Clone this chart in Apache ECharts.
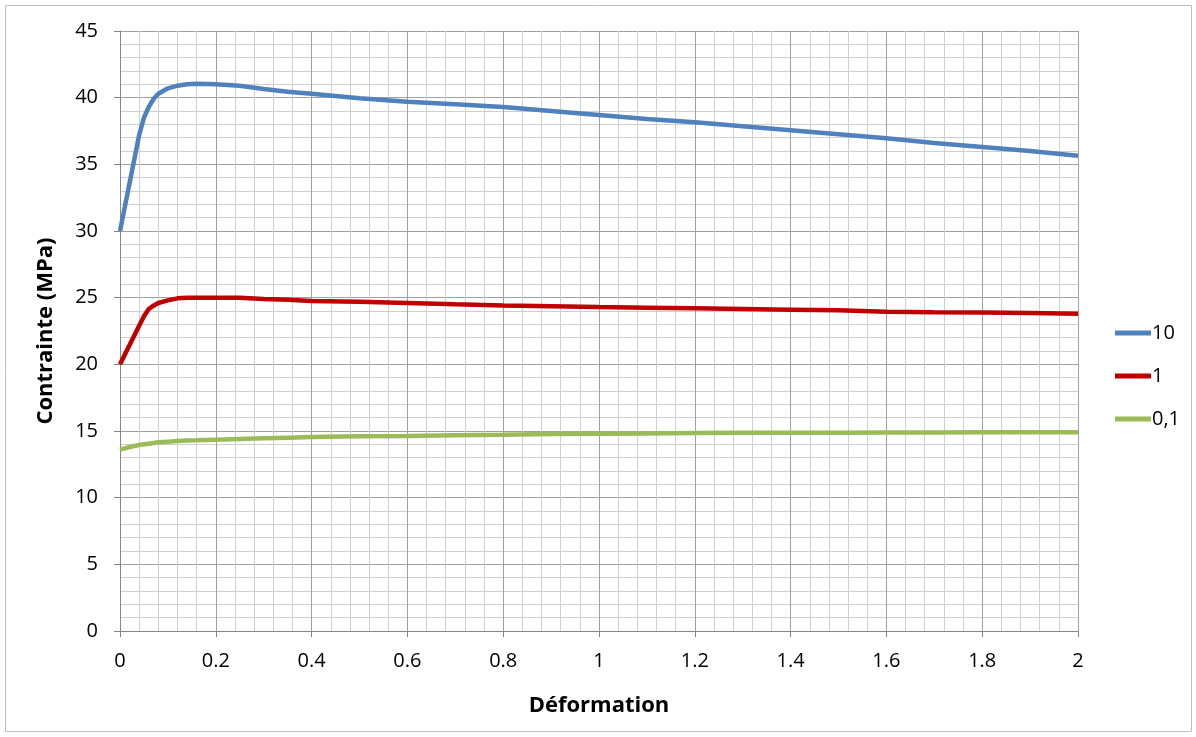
<!DOCTYPE html>
<html>
<head>
<meta charset="utf-8">
<script src="https://cdn.jsdelivr.net/npm/echarts@6/dist/echarts.min.js"></script>
<style>html,body{margin:0;padding:0;background:#fff;}#c{width:1196px;height:737px;}</style>
</head>
<body>
<div id="c"></div>
<script>
const strain = [0,0.02,0.04,0.05,0.06,0.07,0.08,0.1,0.12,0.14,0.16,0.2,0.25,0.3,0.35,0.4,0.5,0.6,0.7,0.8,0.9,1.0,1.1,1.2,1.3,1.4,1.5,1.6,1.7,1.8,1.9,2.0];
const s10  = [30,33.6,37.2,38.5,39.3,39.9,40.3,40.7,40.9,41.0,41.05,41.0,40.9,40.65,40.45,40.3,39.95,39.7,39.5,39.3,39.0,38.7,38.4,38.15,37.85,37.55,37.25,36.95,36.6,36.3,36.0,35.65];
const s1   = [20,21.45,22.9,23.6,24.15,24.4,24.6,24.8,24.95,25.0,25.0,25.0,25.0,24.9,24.85,24.75,24.7,24.6,24.5,24.42,24.36,24.3,24.25,24.2,24.15,24.1,24.05,23.95,23.9,23.88,23.85,23.8];
const s01  = [13.6,13.8,13.95,14.0,14.05,14.1,14.15,14.2,14.25,14.28,14.3,14.35,14.4,14.45,14.5,14.55,14.6,14.62,14.68,14.72,14.78,14.8,14.82,14.85,14.86,14.87,14.87,14.88,14.88,14.9,14.9,14.9];
const seriesNames = ['10','1','0,1'];
const seriesColors = ['#4F81BD','#C00000','#9BBB59'];
const allSeries = [s10, s1, s01];

const FONT = '"Open Sans", "Liberation Sans", sans-serif';
const chart = echarts.init(document.getElementById('c'), null, {renderer:'canvas'});
chart.setOption({
  animation:false,
  backgroundColor:'#fff',
  graphic:[{type:'rect', shape:{x:5.5,y:5.5,width:1186,height:726}, style:{fill:'none', stroke:'#bfbfbf', lineWidth:1}}],
  grid:{left:120, right:118, top:31, bottom:106, containLabel:false},
  legend:{
    orient:'vertical', left:1110, top:318, itemWidth:36, itemHeight:14, itemGap:23,
    textStyle:{fontFamily:FONT, fontSize:20, color:'#000', padding:[0,0,0,-4]},
    data:seriesNames.map(n=>({name:n, icon:'path://M0,0 L36,0 L36,5 L0,5 Z'}))
  },
  xAxis:{
    type:'value', min:0, max:2, interval:0.2,
    name:'Déformation', nameLocation:'middle', nameGap:64,
    nameTextStyle:{fontFamily:FONT, fontSize:22, fontWeight:'bold', color:'#000'},
    axisLine:{show:true, lineStyle:{color:'#868686', width:1}},
    axisTick:{show:true, length:6, lineStyle:{color:'#868686'}},
    axisLabel:{fontFamily:FONT, fontSize:20, color:'#000', margin:20},
    splitLine:{show:true, lineStyle:{color:'#a0a0a0', width:1}},
    minorTick:{show:false, splitNumber:5},
    minorSplitLine:{show:true, lineStyle:{color:'#cfcfcf', width:1}}
  },
  yAxis:{
    type:'value', min:0, max:45, interval:5,
    name:'Contrainte (MPa)', nameLocation:'middle', nameGap:63, nameRotate:90,
    nameTextStyle:{fontFamily:FONT, fontSize:22, fontWeight:'bold', color:'#000'},
    axisLine:{show:true, lineStyle:{color:'#868686', width:1}},
    axisTick:{show:true, length:6, lineStyle:{color:'#868686'}},
    axisLabel:{fontFamily:FONT, fontSize:20, color:'#000', margin:22},
    splitLine:{show:true, lineStyle:{color:'#a0a0a0', width:1}},
    minorTick:{show:false, splitNumber:5},
    minorSplitLine:{show:true, lineStyle:{color:'#cfcfcf', width:1}}
  },
  series: allSeries.map((ys,i)=>({
    name:seriesNames[i], type:'line', showSymbol:false, symbol:'none',
    color:seriesColors[i],
    lineStyle:{width:4.5, color:seriesColors[i]},
    data: strain.map((x,j)=>[x, ys[j]])
  }))
});
</script>
</body>
</html>
